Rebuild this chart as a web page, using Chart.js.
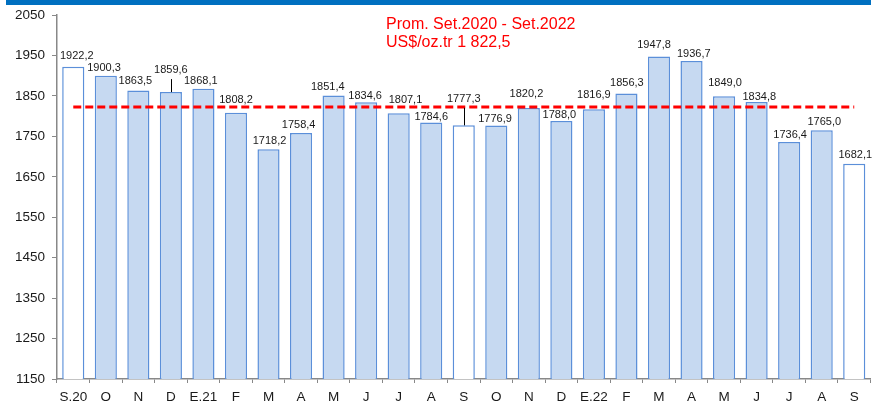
<!DOCTYPE html>
<html>
<head>
<meta charset="utf-8">
<script src="https://cdn.jsdelivr.net/npm/chart.js@4/dist/chart.umd.min.js"></script>
<style>
html,body{margin:0;padding:0;background:#fff;}
#wrap{position:relative;width:873px;height:401px;}
</style>
</head>
<body>
<div id="wrap"><canvas id="c"></canvas></div>
<script>
// ---- data ----
const categories = ['S.20','O','N','D','E.21','F','M','A','M','J','J','A','S','O','N','D','E.22','F','M','A','M','J','J','A','S'];
const prices = [1922.2,1900.3,1863.5,1859.6,1868.1,1808.2,1718.2,1758.4,1851.4,1834.6,1807.1,1784.6,1777.3,1776.9,1820.2,1788.0,1816.9,1856.3,1947.8,1936.7,1849.0,1834.8,1736.4,1765.0,1682.1];
const averagePrice = 1822.5;
const yMin = 1150, yMax = 2050, yStep = 100;
const noteLine1 = 'Prom. Set.2020 - Set.2022';
const noteUnit = 'US$/oz.tr';

function fmt(v){ return v.toFixed(1).replace('.', ','); }
function fmtThousands(v){
  const s = v.toFixed(1).split('.');
  return s[0].replace(/\B(?=(\d{3})+(?!\d))/g, ' ') + ',' + s[1];
}

const FONT = '"Liberation Sans", Arial, sans-serif';

// label layout tweaks (position only)
const labelDx = [3.5,-1.8,-3,0,-2.7,0,1,-2.4,-5.8,-1,6.8,0,0,-1.3,-2.4,-2,0,0.4,-5,2.2,1,2.7,1,2.6,1];
const labelDy = [-2.2,1.5,-0.4,-13,1.4,-3.8,0.8,1.1,0.7,2.9,-4.2,3.7,-17.6,2.5,-4.9,3,-5.3,-1.3,-2.3,2.2,-4.3,4,2.2,0.7,0.5];
const leaderIdx = [3, 12];

const decorPlugin = {
  id: 'decor',
  beforeDraw(chart){
    const ctx = chart.ctx;
    ctx.save();
    ctx.fillStyle = '#0070C0';
    ctx.fillRect(6, 0, 865, 5);
    ctx.restore();
  },
  afterDatasetsDraw(chart){
    const ctx = chart.ctx;
    const meta = chart.getDatasetMeta(1);
    ctx.save();
    ctx.font = '11px ' + FONT;
    ctx.fillStyle = '#1a1a1a';
    ctx.textAlign = 'center';
    ctx.textBaseline = 'alphabetic';
    meta.data.forEach((bar, i) => {
      const x = bar.x + labelDx[i];
      const base = bar.y - 6 + labelDy[i];
      ctx.fillText(fmt(prices[i]), x, base);
      if (leaderIdx.includes(i)) {
        ctx.strokeStyle = '#000';
        ctx.lineWidth = 1;
        ctx.beginPath();
        ctx.moveTo(Math.round(bar.x) + 0.5, base + 6);
        ctx.lineTo(Math.round(bar.x) + 0.5, bar.y);
        ctx.stroke();
      }
    });
    // red note
    ctx.font = '16px ' + FONT;
    ctx.fillStyle = '#FF0000';
    ctx.textAlign = 'left';
    ctx.fillText(noteLine1, 386, 29);
    ctx.fillText(noteUnit + ' ' + fmtThousands(averagePrice), 386, 47);
    ctx.restore();
  }
};

new Chart(document.getElementById('c'), {
  data: {
    labels: categories,
    datasets: [
      {
        type: 'line',
        data: categories.map(() => averagePrice),
        borderColor: '#FF0000',
        borderWidth: 3,
        borderDash: [8, 4],
        pointRadius: 0,
        fill: false,
        order: 0
      },
      {
        type: 'bar',
        data: prices,
        backgroundColor: categories.map(c => c.startsWith('S') ? '#FFFFFF' : '#C6D9F1'),
        borderColor: '#5B8FD9',
        borderWidth: 1.5,
        barPercentage: 0.68,
        categoryPercentage: 1,
        order: 1
      }
    ]
  },
  options: {
    responsive: true,
    maintainAspectRatio: false,
    animation: false,
    devicePixelRatio: 1,
    layout: { padding: { top: 15, right: 2.5, left: 0, bottom: 0 } },
    plugins: { legend: { display: false }, tooltip: { enabled: false } },
    scales: {
      x: {
        offset: true,
        grid: { display: true, drawOnChartArea: false, offset: true, tickLength: 4, color: '#888', lineWidth: 1 },
        border: { display: true, color: '#888', width: 1.5 },
        ticks: { color: '#1a1a1a', font: { family: FONT, size: 13.5 }, padding: 6, maxRotation: 0, autoSkip: false },
        afterFit(s){ s.height = 22; }
      },
      y: {
        min: yMin, max: yMax,
        grid: { display: true, drawOnChartArea: false, tickLength: 5, color: '#888', lineWidth: 1 },
        border: { display: true, color: '#888', width: 1.5 },
        ticks: { stepSize: yStep, color: '#1a1a1a', font: { family: FONT, size: 13.5 }, padding: 7,
                 callback: v => String(v) },
        afterFit(s){ s.width = 57; }
      }
    }
  },
  plugins: [decorPlugin]
});
</script>
</body>
</html>
